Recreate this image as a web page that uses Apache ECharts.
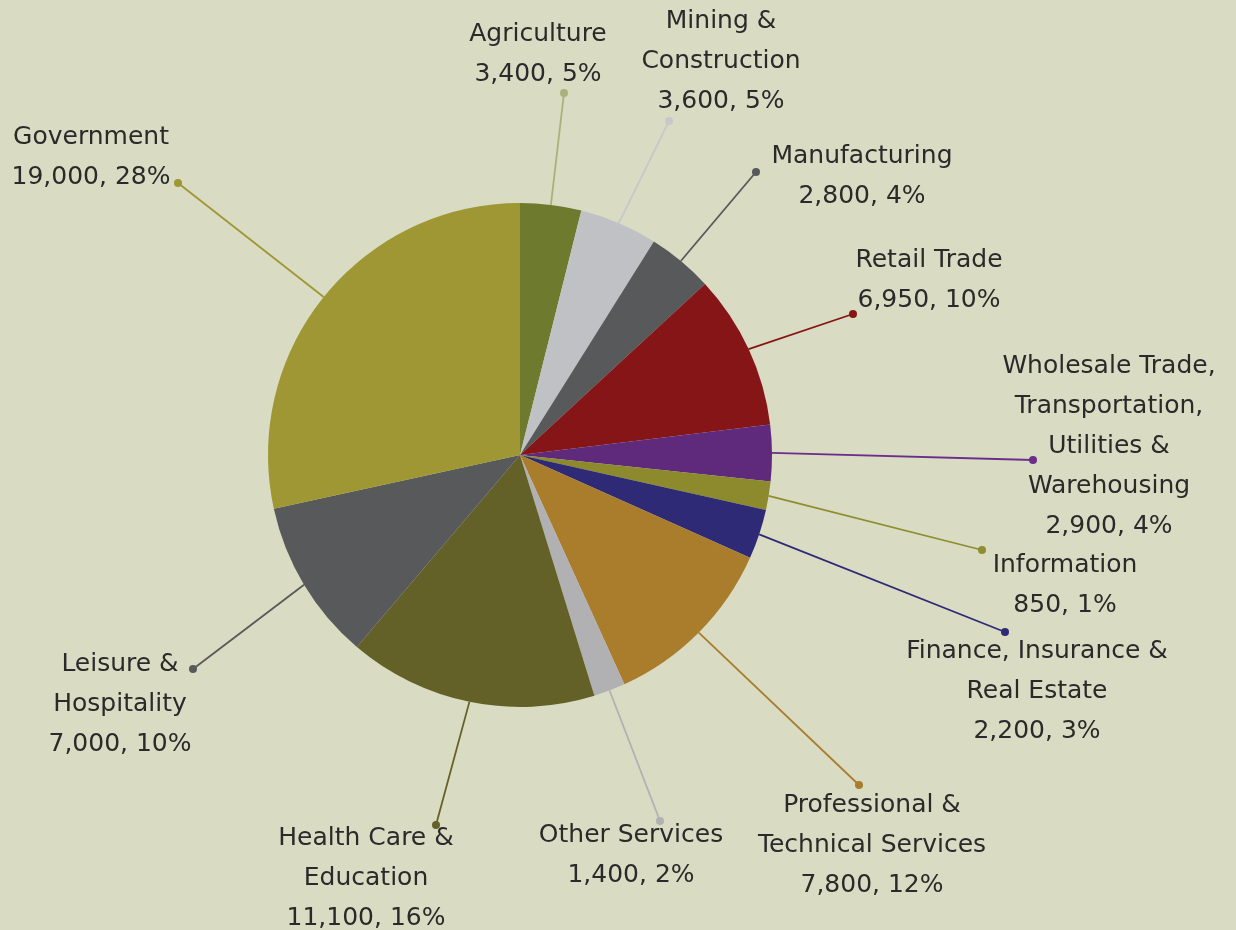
<!DOCTYPE html>
<html>
<head>
<meta charset="utf-8">
<script src="https://cdn.jsdelivr.net/npm/echarts@6/dist/echarts.min.js"></script>
<style>
  html, body { margin: 0; background: #d9dcc3; }
  #chart { width: 1236px; height: 930px; }
</style>
</head>
<body>
<div id="chart"></div>
<script>
const sectors = [
  'Agriculture',
  'Mining &\nConstruction',
  'Manufacturing',
  'Retail Trade',
  'Wholesale Trade,\nTransportation,\nUtilities &\nWarehousing',
  'Information',
  'Finance, Insurance &\nReal Estate',
  'Professional &\nTechnical Services',
  'Other Services',
  'Health Care &\nEducation',
  'Leisure &\nHospitality',
  'Government'
]
// numbers printed in the labels
const jobs = [3400, 3600, 2800, 6950, 2900, 850, 2200, 7800, 1400, 11100, 7000, 19000]
const shares = [5, 5, 4, 10, 4, 1, 3, 12, 2, 16, 10, 28]
// slice sizes as drawn in the picture (they do not quite follow the printed numbers)
const sliceValues = [2700, 3450, 2900, 6860, 2490, 1260, 2200, 7940, 1400, 11020, 7150, 19610]

const sliceColors = ['#6e7a2e', '#c0c1c4', '#58595b', '#851517', '#5f2a7c', '#8c8a2c',
  '#2f2a75', '#a97d2c', '#b1b1b4', '#646128', '#58595b', '#9e9734']
const lineColors = ['#a9b27a', '#c8c8ca', '#58595b', '#851517', '#6b2e8a', '#8f8d2f',
  '#2f2a75', '#a97d2c', '#b1b1b4', '#646128', '#58595b', '#9e9734']

// where each label block is centred, and where its leader line ends (px)
const labelCentres = [[538, 54], [721, 61], [862, 176], [929, 280], [1109, 446], [1065, 585],
  [1037, 691], [872, 845], [631, 855], [366, 878], [120, 704], [91, 157]]
const dots = [[564, 93], [669, 121], [756, 172], [853, 314], [1033, 460], [982, 550],
  [1005, 632], [859, 785], [660, 821], [436, 825], [193, 669], [178, 183]]

const chart = echarts.init(document.getElementById('chart'))

chart.setOption({
  backgroundColor: '#d9dcc3',
  textStyle: { fontFamily: 'DejaVu Sans' },
  graphic: dots.map((d, i) => ({
    type: 'circle',
    z: 100,
    shape: { cx: d[0], cy: d[1], r: 4 },
    style: { fill: lineColors[i] }
  })),
  series: [
    {
      type: 'pie',
      center: [520, 455],
      radius: 252,
      startAngle: 90,
      clockwise: true,
      avoidLabelOverlap: false,
      data: sectors.map((name, i) => ({
        name,
        value: sliceValues[i],
        itemStyle: { color: sliceColors[i] },
        labelLine: { lineStyle: { color: lineColors[i] } }
      })),
      label: {
        position: 'outside',
        color: '#2a2a2a',
        fontSize: 25,
        lineHeight: 40,
        align: 'center',
        formatter: (p) => `${p.name}\n${jobs[p.dataIndex].toLocaleString('en-US')}, ${shares[p.dataIndex]}%`
      },
      labelLine: { show: true, length: 20, length2: 10, lineStyle: { width: 1.8 } },
      labelLayout: (p) => {
        const i = p.dataIndex
        const start = p.labelLinePoints ? p.labelLinePoints[0] : dots[i]
        return {
          x: labelCentres[i][0],
          y: labelCentres[i][1],
          align: 'center',
          verticalAlign: 'middle',
          labelLinePoints: [start, dots[i], dots[i]]
        }
      },
      emphasis: { disabled: true }
    }
  ]
})
</script>
</body>
</html>
